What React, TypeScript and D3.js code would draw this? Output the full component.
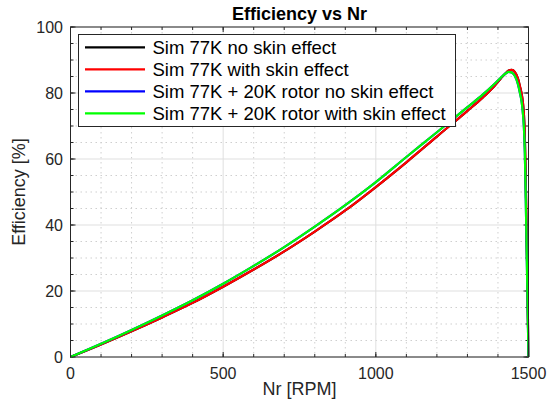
import React from "react";
import * as d3 from "d3";

const nrRpm = [0, 100, 200, 300, 400, 500, 600, 700, 800, 900, 1000, 1100, 1200, 1300, 1350, 1390, 1410, 1425, 1435, 1445, 1455, 1465, 1472, 1478, 1482, 1485, 1488, 1491, 1494, 1497, 1500];

const effBlack = [0, 3.8, 7.8, 12.0, 16.4, 21.3, 26.5, 32.0, 38.0, 44.4, 51.5, 59.0, 66.8, 74.6, 78.6, 82.3, 84.5, 86.0, 86.8, 87.0, 86.4, 84.5, 82.0, 79.5, 76.8, 73.5, 67.0, 54.0, 37.0, 19.0, 0];
const effRed = [0, 3.8, 7.8, 12.0, 16.4, 21.3, 26.5, 32.0, 38.0, 44.4, 51.5, 59.0, 66.8, 74.6, 78.6, 82.3, 84.5, 86.0, 86.8, 87.0, 86.4, 84.5, 82.0, 79.5, 76.8, 73.5, 67.0, 54.0, 37.0, 19.0, 0];
const effBlue = [0, 4.0, 8.2, 12.6, 17.2, 22.2, 27.6, 33.3, 39.5, 46.0, 53.0, 60.6, 68.1, 75.7, 79.5, 82.9, 84.7, 85.9, 86.4, 86.2, 85.2, 82.8, 80.0, 77.0, 73.5, 69.5, 62.0, 48.0, 32.0, 16.0, 0];
const effGreen = [0, 4.0, 8.2, 12.6, 17.2, 22.2, 27.6, 33.3, 39.5, 46.0, 53.0, 60.6, 68.1, 75.7, 79.5, 82.9, 84.7, 85.9, 86.4, 86.2, 85.2, 82.8, 80.0, 77.0, 73.5, 69.5, 62.0, 48.0, 32.0, 16.0, 0];

const seriesNames = [
  "Sim 77K no skin effect",
  "Sim 77K with skin effect",
  "Sim 77K + 20K rotor no skin effect",
  "Sim 77K + 20K rotor with skin effect",
];
const seriesColors = ["#000000", "#ff0000", "#0000ff", "#00ff00"];
const seriesValues = [effBlack, effRed, effBlue, effGreen];

const xTicks = [0, 500, 1000, 1500];
const yTicks = [0, 20, 40, 60, 80, 100];
const xMinor = d3.range(0, 1501, 100);
const yMinor = d3.range(0, 101, 5);

const W = 548;
const H = 407;
const L = 70.5, R = 528.5, T = 27, B = 357;

export default function App() {
  const x = d3.scaleLinear().domain([0, 1500]).range([L, R]);
  const y = d3.scaleLinear().domain([0, 100]).range([B, T]);
  const line = d3
    .line<number>()
    .x((_, i) => x(nrRpm[i]))
    .y((d) => y(d))
    .curve(d3.curveMonotoneX);

  const font = "'Liberation Sans', Arial, Helvetica, sans-serif";
  const axisCol = "#262626";

  return (
    <svg
      width={W}
      height={H}
      style={{ position: "absolute", left: 0, top: 0, background: "#fff" }}
      fontFamily={font}
    >
      <rect x={0} y={0} width={W} height={H} fill="#ffffff" />
      <defs>
        <clipPath id="plotclip">
          <rect x={L - 1} y={T - 1} width={R - L + 2} height={B - T + 2} />
        </clipPath>
      </defs>
      {/* minor grid */}
      {xMinor
        .filter((v) => !xTicks.includes(v))
        .map((v) => (
          <line key={"xm" + v} x1={x(v)} x2={x(v)} y1={T} y2={B} stroke="#cfcfcf" strokeWidth={1} strokeDasharray="1.5,3.5" />
        ))}
      {yMinor
        .filter((v) => !yTicks.includes(v))
        .map((v) => (
          <line key={"ym" + v} x1={L} x2={R} y1={y(v)} y2={y(v)} stroke="#cfcfcf" strokeWidth={1} strokeDasharray="1.5,3.5" />
        ))}
      {/* major grid */}
      {xTicks.map((v) => (
        <line key={"xg" + v} x1={x(v)} x2={x(v)} y1={T} y2={B} stroke="#dfdfdf" strokeWidth={1} />
      ))}
      {yTicks.map((v) => (
        <line key={"yg" + v} x1={L} x2={R} y1={y(v)} y2={y(v)} stroke="#dfdfdf" strokeWidth={1} />
      ))}
      {/* minor ticks */}
      {xMinor.map((v) => (
        <g key={"xmt" + v}>
          <line x1={x(v)} x2={x(v)} y1={B} y2={B - 3} stroke={axisCol} />
          <line x1={x(v)} x2={x(v)} y1={T} y2={T + 3} stroke={axisCol} />
        </g>
      ))}
      {yMinor.map((v) => (
        <g key={"ymt" + v}>
          <line x1={L} x2={L + 3} y1={y(v)} y2={y(v)} stroke={axisCol} />
          <line x1={R} x2={R - 3} y1={y(v)} y2={y(v)} stroke={axisCol} />
        </g>
      ))}
      {/* major ticks */}
      {xTicks.map((v) => (
        <g key={"xt" + v}>
          <line x1={x(v)} x2={x(v)} y1={B} y2={B - 5} stroke={axisCol} />
          <line x1={x(v)} x2={x(v)} y1={T} y2={T + 5} stroke={axisCol} />
          <text x={x(v)} y={379} textAnchor="middle" fontSize={16} fill={axisCol}>
            {v}
          </text>
        </g>
      ))}
      {yTicks.map((v) => (
        <g key={"yt" + v}>
          <line x1={L} x2={L + 5} y1={y(v)} y2={y(v)} stroke={axisCol} />
          <line x1={R} x2={R - 5} y1={y(v)} y2={y(v)} stroke={axisCol} />
          <text x={63} y={y(v)} dy="0.35em" textAnchor="end" fontSize={16} fill={axisCol}>
            {v}
          </text>
        </g>
      ))}
      {/* series */}
      <g clipPath="url(#plotclip)">
        {seriesValues.map((vals, i) => (
          <path key={"s" + i} d={line(vals) || ""} fill="none" stroke={seriesColors[i]} strokeWidth={2.2} strokeLinejoin="round" />
        ))}
      </g>
      {/* frame */}
      <rect x={L} y={T} width={R - L} height={B - T} fill="none" stroke={axisCol} strokeWidth={1} />
      {/* title & labels */}
      <text x={(L + R) / 2} y={20} textAnchor="middle" fontSize={18} fontWeight="bold" fill="#000">
        Efficiency vs Nr
      </text>
      <text x={(L + R) / 2} y={395} textAnchor="middle" fontSize={18} fill={axisCol}>
        Nr [RPM]
      </text>
      <text
        transform={`translate(25,${(T + B) / 2}) rotate(-90)`}
        textAnchor="middle"
        fontSize={18}
        fill={axisCol}
      >
        Efficiency [%]
      </text>
      {/* legend */}
      <rect x={78.5} y={34.5} width={377} height={92} fill="#ffffff" stroke={axisCol} strokeWidth={1} />
      {seriesNames.map((name, i) => {
        const cy = 47.3 + i * 22;
        return (
          <g key={"lg" + i}>
            <line x1={85} x2={145} y1={cy} y2={cy} stroke={seriesColors[i]} strokeWidth={2.2} />
            <text x={152.5} y={cy} dy="0.36em" fontSize={18.5} fill="#000">
              {name}
            </text>
          </g>
        );
      })}
    </svg>
  );
}
